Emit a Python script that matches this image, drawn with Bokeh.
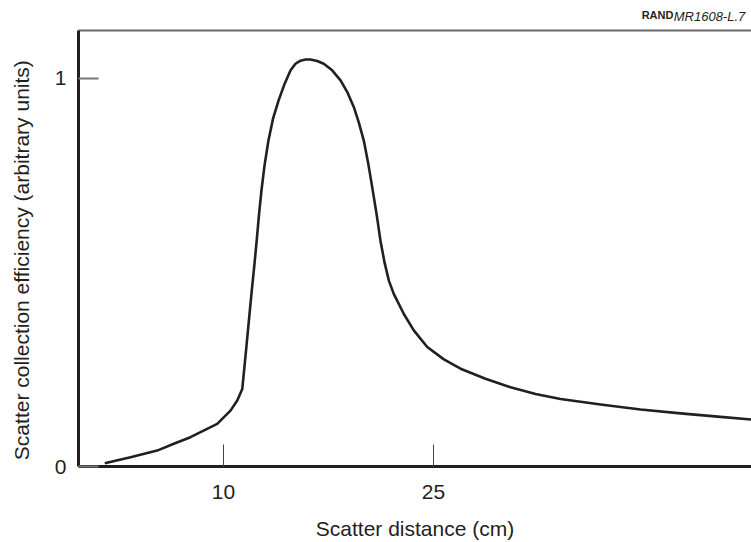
from bokeh.plotting import figure
from bokeh.models import Range1d, FixedTicker, LinearAxis
from bokeh.embed import file_html
from bokeh.resources import INLINE

# Data
distance_cm = [1.52, 3.36, 5.26, 6.45, 7.64, 9.55, 10.5, 10.98, 11.34, 11.61, 11.86, 12.02,
               12.2, 12.37, 12.53, 12.71, 12.93, 13.21, 13.54, 13.93, 14.36, 14.79, 15.14,
               15.5, 15.86, 16.21, 16.69, 17.16, 17.76, 18.36, 18.84, 19.31, 19.66, 20.02,
               20.34, 20.62, 20.93, 21.21, 21.5, 21.81, 22.16, 22.88, 23.59, 24.55, 25.74,
               26.93, 28.71, 30.5, 32.29, 34.07, 36.93, 39.79, 42.64, 45.5, 47.71]
efficiency = [0.0085, 0.024, 0.041, 0.0585, 0.0755, 0.110, 0.144, 0.170, 0.200, 0.299, 0.394, 0.454,
              0.518, 0.582, 0.647, 0.711, 0.776, 0.840, 0.897, 0.943, 0.986, 1.021, 1.038,
              1.046, 1.049, 1.049, 1.045, 1.038, 1.021, 0.995, 0.965, 0.926, 0.887, 0.840,
              0.780, 0.720, 0.651, 0.582, 0.526, 0.479, 0.445, 0.393, 0.351, 0.308, 0.276,
              0.252, 0.226, 0.204, 0.187, 0.174, 0.160, 0.147, 0.137, 0.128, 0.121]
x_ticks = [10, 25]
y_ticks = [0, 1]
x_title = "Scatter distance (cm)"
y_title = "Scatter collection efficiency (arbitrary units)"
credit_bold = "RAND"
credit_italic = "MR1608-L.7"

FONT = "Liberation Sans"
INK = "#231f20"

p = figure(width=751, height=542, output_backend="svg", toolbar_location=None,
           x_range=Range1d(-0.357, 47.71), y_range=Range1d(0, 1.1237),
           min_border_left=78, min_border_right=0, min_border_top=30, min_border_bottom=76)
p.outline_line_color = None
p.grid.visible = False

p.line(distance_cm, efficiency, line_color=INK, line_width=2.6, line_join="round")

xa = p.xaxis[0]
xa.ticker = FixedTicker(ticks=x_ticks)
xa.axis_line_width = 3
xa.axis_line_color = INK
xa.major_tick_in = 22
xa.major_tick_out = 0
xa.major_tick_line_color = "#444444"
xa.major_tick_line_width = 1
xa.minor_tick_line_color = None
xa.major_label_text_font = FONT
xa.major_label_text_font_size = "21px"
xa.major_label_text_color = INK
xa.major_label_standoff = 18
xa.axis_label = x_title
xa.axis_label_text_font = FONT
xa.axis_label_text_font_size = "21px"
xa.axis_label_text_font_style = "normal"
xa.axis_label_text_color = INK
xa.axis_label_standoff = 15

ya = p.yaxis[0]
ya.ticker = FixedTicker(ticks=y_ticks)
ya.axis_line_width = 3
ya.axis_line_color = INK
ya.major_tick_in = 20
ya.major_tick_out = 0
ya.major_tick_line_color = "#777777"
ya.major_tick_line_width = 2
ya.minor_tick_line_color = None
ya.major_label_text_font = FONT
ya.major_label_text_font_size = "21px"
ya.major_label_text_color = INK
ya.major_label_standoff = 12
# title sits a little below the frame's centre in the reference: pad its top end
ya.axis_label = y_title + "\u00a0" * 4
ya.axis_label_text_font = FONT
ya.axis_label_text_font_size = "21px"
ya.axis_label_text_font_style = "normal"
ya.axis_label_text_color = INK
ya.axis_label_standoff = 19

# top rule with the credit line, as two stacked top axes sharing one baseline
rand_x = 41.0
mr_x = 44.71
top1 = LinearAxis(ticker=FixedTicker(ticks=[rand_x]), major_label_overrides={rand_x: credit_bold},
                  axis_line_color="#666666", axis_line_width=2,
                  major_tick_line_color=None, major_tick_out=0, major_tick_in=0,
                  minor_tick_line_color=None, major_label_standoff=10,
                  major_label_text_font=FONT, major_label_text_font_size="11px",
                  major_label_text_font_style="bold", major_label_text_color=INK)
p.add_layout(top1, "above")
top2 = LinearAxis(ticker=FixedTicker(ticks=[mr_x]), major_label_overrides={mr_x: credit_italic},
                  axis_line_color=None,
                  major_tick_line_color=None, major_tick_out=0, major_tick_in=0,
                  minor_tick_line_color=None, major_label_standoff=-18,
                  major_label_text_font=FONT, major_label_text_font_size="13px",
                  major_label_text_font_style="italic", major_label_text_color=INK)
p.add_layout(top2, "above")

open("out.html", "w").write(file_html(p, INLINE))
